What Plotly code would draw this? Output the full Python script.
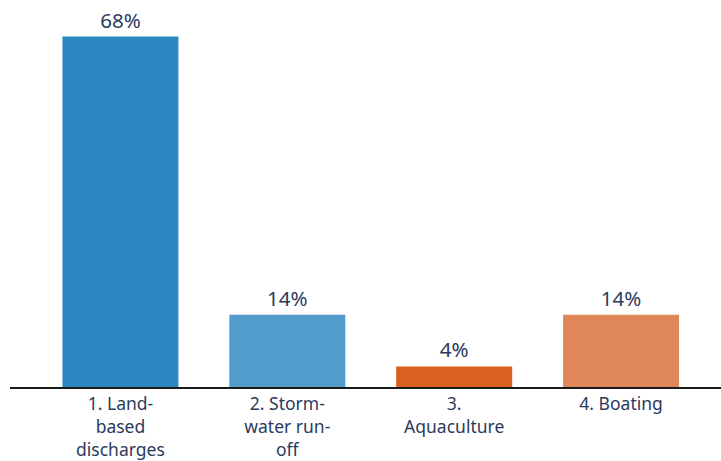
import plotly.graph_objects as go

categories = ["1. Land-<br>based<br>discharges", "2. Storm-<br>water run-<br>off", "3.<br>Aquaculture", "4. Boating"]
values = [68, 14, 4, 14]
labels = ["68%", "14%", "4%", "14%"]
colors = ["#2B87C0", "#519CCB", "#D9601F", "#E0875A"]

fig = go.Figure(go.Bar(
    x=list(range(len(categories))),
    y=values,
    text=labels,
    textposition="outside",
    textfont=dict(size=20.5, color="#2B3A5C", family="Noto Sans"),
    marker=dict(color=colors, line=dict(width=0)),
    cliponaxis=False,
))

fig.update_layout(
    width=721, height=461,
    margin=dict(l=10, r=0, t=0, b=74),
    plot_bgcolor="white", paper_bgcolor="white",
    bargap=0.305,
    showlegend=False,
    xaxis=dict(
        range=[-0.6617, 3.5988],
        tickmode="array",
        tickvals=list(range(len(categories))),
        ticktext=categories,
        tickfont=dict(size=17.5, color="#2B3A5C", family="Noto Sans"),
        showline=True, linecolor="#1a1a1a", linewidth=2,
        showgrid=False, zeroline=False, ticks="",
    ),
    yaxis=dict(range=[0, 75.1], visible=False, showgrid=False, zeroline=False),
)

fig.write_html("out.html")
